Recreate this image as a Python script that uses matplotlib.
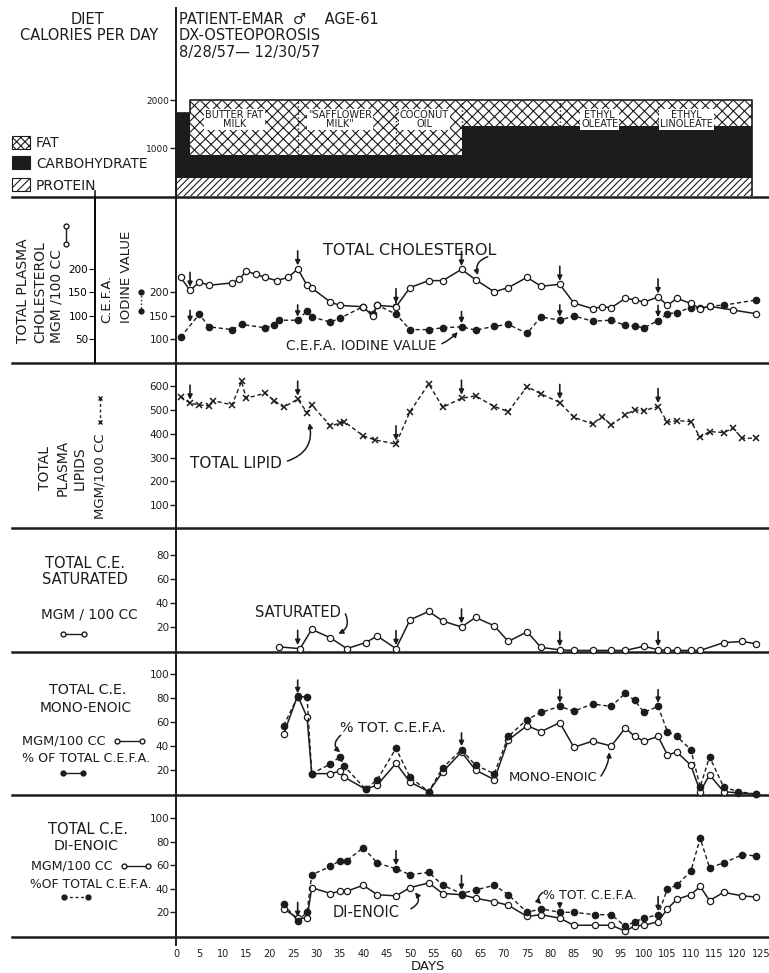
import numpy as np
import matplotlib.pyplot as plt
from matplotlib.patches import Rectangle

W, H = 769, 973
INK = '#1c1c1c'
plt.rcParams['font.family'] = 'DejaVu Sans'
plt.rcParams['hatch.linewidth'] = 0.8

# ---------------- data ----------------
# diet, calories per day by period
seg_start = np.array([0, 3, 26, 47, 61, 82, 103])
seg_end = np.array([3, 26, 47, 61, 82, 103, 123])
protein = np.array([380, 380, 380, 380, 380, 380, 380])
carb = np.array([1350, 470, 470, 470, 1080, 1080, 1080])
fat = np.array([0, 1150, 1150, 1150, 540, 540, 540])
diet_names = ['', 'BUTTER FAT\nMILK', '"SAFFLOWER\nMILK"', 'COCONUT\nOIL', '',
              'ETHYL\nOLEATE', 'ETHYL\nLINOLEATE']
change_days = [3, 26, 47, 61, 82, 103]

# total plasma cholesterol (mgm/100cc) and C.E.F.A. iodine value
chol_days = [1, 3, 5, 7, 12, 13.5, 15, 17, 19, 21.5, 24, 26, 28, 29, 33, 35, 40, 42, 43,
             47, 50, 54, 57, 61, 64, 68, 71, 75, 78, 82, 85, 89, 91, 93, 96, 98, 100,
             103, 105, 107, 110, 112, 114, 119, 124]
chol_vals = [182, 154, 172, 165, 170, 178, 195, 189, 182, 175, 182, 200, 165, 159, 129,
             122, 119, 99, 122, 119, 160, 175, 175, 199, 177, 151, 160, 182, 163, 167,
             127, 115, 119, 117, 137, 134, 129, 140, 122, 137, 126, 115, 120, 112, 104]
iod_days = [1, 5, 7, 12, 14, 19, 21, 22, 26, 28, 29, 33, 35, 40, 42, 43, 47, 50, 54, 57,
            61, 64, 68, 71, 75, 78, 82, 85, 89, 93, 96, 98, 100, 103, 105, 107, 110,
            112, 114, 117, 124]
iod_vals = [104, 153, 126, 120, 131, 124, 129, 140, 140, 160, 147, 136, 144, 169, 153,
            172, 153, 120, 120, 124, 126, 119, 127, 131, 112, 147, 140, 149, 138, 140,
            129, 127, 124, 139, 154, 156, 167, 165, 170, 172, 183]

# total plasma lipids (mgm/100cc)
lip_days = [1, 3, 5, 7, 8, 12, 14, 15, 19, 21, 23, 26, 28, 29, 33, 35, 36, 40, 42.5, 47,
            50, 54, 57, 61, 64, 68, 71, 75, 78, 82, 85, 89, 91, 93, 96, 98, 100, 103,
            105, 107, 110, 112, 114, 117, 119, 121, 124]
lip_vals = [556, 528, 521, 517, 539, 521, 620, 549, 570, 539, 511, 545, 489, 521, 433,
            444, 450, 391, 374, 357, 493, 609, 511, 549, 559, 514, 493, 598, 567, 531,
            469, 441, 472, 437, 479, 500, 497, 514, 448, 455, 451, 385, 409, 405, 423,
            381, 381]

# total C.E. saturated (mgm/100cc)
sat_days = [22, 26.5, 29, 33, 36.5, 40.5, 43, 47, 50, 54, 57, 61, 64, 68, 71, 75, 78, 82,
            85, 89, 93, 96, 100, 103, 105, 107, 110, 112, 117, 121, 124]
sat_vals = [3.5, 2, 18, 11, 2, 7, 12.5, 2, 26, 33, 25, 20, 28, 21, 8, 16, 3, 1, 0.5, 0.5,
            0.5, 0.5, 4, 1, 0.5, 0.5, 0.5, 0.5, 7, 8, 6]

# total C.E. mono-enoic: mgm/100cc and % of total C.E.F.A.
mono_days = [23, 26, 28, 29, 33, 35, 36, 40.5, 43, 47, 50, 54, 57, 61, 64, 68, 71, 75,
             78, 82, 85, 89, 93, 96, 98, 100, 103, 105, 107, 110, 112, 114, 117, 120, 124]
mono_mgm = [50, 82, 64, 17, 17, 19, 14, 4, 7.5, 25.6, 10, 2, 18.6, 35, 20, 12, 45, 57, 52,
            59.5, 39, 44, 40, 55, 48, 44, 48, 32.5, 35, 24, 2, 16, 2, 1, 0]
mono_pct = [57, 81, 81, 17, 25, 31, 23, 4, 12, 38, 14, 2, 22, 37, 24, 17, 48, 62, 68, 73,
            69, 75, 73, 84, 78, 68, 73, 52, 48, 37, 6, 31, 6, 2, 0]

# total C.E. di-enoic: mgm/100cc and % of total C.E.F.A.
di_days = [23, 26, 28, 29, 33, 35, 36.5, 40, 43, 47, 50, 54, 57, 61, 64, 68, 71, 75, 78,
           82, 85, 89.5, 93, 96, 98, 100, 103, 105, 107, 110, 112, 114, 117, 121, 124]
di_mgm = [23, 15, 15, 41, 36, 38, 38, 43, 35, 34, 41, 45, 36, 35, 32, 29, 26, 16.5, 18,
          15, 9, 9, 9, 4, 8.5, 9, 12, 23, 31, 35, 42, 30, 37, 34, 33]
di_pct = [27, 13, 20, 52, 59, 64, 64, 75, 62, 57, 52, 54, 43, 36, 39, 43, 35, 20, 23, 20,
          20, 18, 18, 8, 12, 15, 18, 40, 43, 55, 83, 58, 62, 69, 68]

day_ticks = list(range(0, 126, 5))
# -----------------------------------------------------------

fig = plt.figure(figsize=(W / 100, H / 100), dpi=100)

# pixel overlay for the left column texts, rules and key symbols
ov = fig.add_axes([0, 0, 1, 1])
ov.set_xlim(0, W)
ov.set_ylim(H, 0)
ov.axis('off')


def panel(top, bottom, ylim, yticks):
    ax = fig.add_axes([176 / W, 1 - bottom / H, (W - 176) / W, (bottom - top) / H])
    ax.set_xlim(0, 126.7)
    ax.set_ylim(*ylim)
    ax.patch.set_alpha(0)
    for s in ['top', 'right', 'bottom']:
        ax.spines[s].set_visible(False)
    ax.spines['left'].set_linewidth(1.4)
    ax.spines['left'].set_color(INK)
    ax.tick_params(axis='x', bottom=False, labelbottom=False)
    ax.tick_params(axis='y', direction='out', length=4, width=1, labelsize=7.5, pad=1,
                   colors=INK)
    ax.set_yticks(yticks)
    return ax


def open_line(ax, x, y):
    ax.plot(x, y, '-o', color=INK, lw=1.1, ms=4.5, mfc='white', mec=INK, mew=0.9,
            clip_on=False, zorder=3)


def dot_line(ax, x, y):
    ax.plot(x, y, 'o', color=INK, ls=(0, (3, 2)), lw=1.0, ms=4.5, clip_on=False,
            zorder=4)


def drop_arrows(ax, days, xs, ys, length=14, gap=2.5):
    for d in days:
        yv = np.interp(d, xs, ys)
        ax.annotate('', xy=(d, yv), xytext=(0, length), textcoords='offset points',
                    arrowprops=dict(arrowstyle='-|>', color=INK, lw=1.2, shrinkA=0,
                                    shrinkB=gap, mutation_scale=7))


def curl(ax, start, end, rad):
    ax.annotate('', xy=end, xytext=start,
                arrowprops=dict(arrowstyle='-|>', color=INK, lw=1.1, shrinkA=0,
                                shrinkB=1, mutation_scale=7,
                                connectionstyle='arc3,rad=%s' % rad))


# ---------------- diet panel ----------------
ax0 = panel(8, 196, (0, 3917), [1000, 2000])
ax0.set_yticklabels(['1000', '2000'], fontsize=6.5)
widths = seg_end - seg_start
ax0.bar(seg_start, protein, width=widths, align='edge', color='white', edgecolor=INK,
        hatch='/////', lw=0)
ax0.bar(seg_start, carb, bottom=protein, width=widths, align='edge', color=INK, lw=0)
ax0.bar(seg_start, fat, bottom=protein + carb, width=widths, align='edge', color='white',
        edgecolor=INK, hatch='xxx', lw=0)
tops = protein + carb + fat
ox = [seg_start[0]]
oy = [0]
for s, e, t in zip(seg_start, seg_end, tops):
    ox += [s, e]
    oy += [t, t]
ox.append(seg_end[-1])
oy.append(0)
ax0.plot(ox, oy, color=INK, lw=1.2)
for s, lo in zip(seg_start[2:], (protein + carb)[2:]):
    ax0.vlines(s, lo, 2000, colors=INK, linestyles=':', lw=1)
label_days = [0, 12.5, 35, 53, 0, 90.5, 109]
for name, xd in zip(diet_names, label_days):
    if name:
        ax0.text(xd, 1600, name, ha='center', va='center', fontsize=7, color=INK,
                 linespacing=0.9,
                 bbox=dict(boxstyle='square,pad=0.1', fc='white', ec='none'))

ov.text(87, 19, 'DIET', ha='center', va='center', fontsize=10.5, color=INK)
ov.text(89, 36, 'CALORIES PER DAY', ha='center', va='center', fontsize=10.5, color=INK)
ov.text(179, 19, 'PATIENT-EMAR  \u2642    AGE-61', ha='left', va='center', fontsize=10.5,
        color=INK)
ov.text(179, 36, 'DX-OSTEOPOROSIS', ha='left', va='center', fontsize=10.5, color=INK)
ov.text(179, 53, '8/28/57\u2014 12/30/57', ha='left', va='center', fontsize=10.5,
        color=INK)
ov.add_patch(Rectangle((12, 136), 18, 13, fc='white', ec=INK, hatch='xxxx', lw=0.8))
ov.add_patch(Rectangle((12, 156), 18, 13, fc=INK, ec=INK, lw=0.8))
ov.add_patch(Rectangle((12, 178), 18, 13, fc='white', ec=INK, hatch='////', lw=0.8))
ov.text(36, 143, 'FAT', va='center', fontsize=10, color=INK)
ov.text(36, 164, 'CARBOHYDRATE', va='center', fontsize=9.8, color=INK)
ov.text(36, 186, 'PROTEIN', va='center', fontsize=10, color=INK)

# ---------------- cholesterol / iodine panel ----------------
ax1 = panel(197, 363, (49, 402), [100, 150, 200])
ax1b = ax1.twinx()
ax1b.set_ylim(-1.4, 354)
ax1b.axis('off')
axc = fig.add_axes([95 / W, 1 - 363 / H, (176 - 95) / W, (363 - 197) / H])
axc.set_ylim(-1.4, 354)
axc.patch.set_alpha(0)
for s in ['top', 'right', 'bottom']:
    axc.spines[s].set_visible(False)
axc.spines['left'].set_linewidth(1.2)
axc.set_xticks([])
axc.set_yticks([50, 100, 150, 200])
axc.tick_params(axis='y', direction='out', length=4, labelsize=7.5, pad=1)

dot_line(ax1, iod_days, iod_vals)
open_line(ax1b, chol_days, chol_vals)
drop_arrows(ax1b, change_days, chol_days, chol_vals, length=13)
drop_arrows(ax1, change_days, iod_days, iod_vals, length=11)
ax1b.text(31.5, 240, 'TOTAL CHOLESTEROL', va='center', fontsize=11.5, color=INK)
curl(ax1b, (66.6, 226), (64.6, 184), 0.5)
ax1.text(23.5, 86, 'C.E.F.A. IODINE VALUE', va='center', fontsize=9.8, color=INK)
curl(ax1, (56.8, 90), (60.4, 117), 0.1)

for xx, t in [(23, 'TOTAL PLASMA'), (40, 'CHOLESTEROL'), (57, 'MGM /100 CC')]:
    ov.text(xx, 343, t, rotation=90, ha='center', va='bottom', fontsize=10, color=INK)
ov.plot([66, 66], [226, 244], '-o', color=INK, lw=1, ms=3.5, mfc='white')
for xx, t in [(107, 'C.E.F.A.'), (126, 'IODINE VALUE')]:
    ov.text(xx, 323, t, rotation=90, ha='center', va='bottom', fontsize=9.5, color=INK)
ov.plot([141, 141], [292, 311], ':o', color=INK, lw=1, ms=3.5)

# ---------------- lipid panel ----------------
ax2 = panel(363, 528, (4, 697), [100, 200, 300, 400, 500, 600])
ax2.plot(lip_days, lip_vals, 'x', color=INK, ls=(0, (3, 2)), lw=1.0, ms=4.5, mew=1.1,
         clip_on=False)
drop_arrows(ax2, change_days, lip_days, lip_vals, length=13)
ax2.text(3, 277, 'TOTAL LIPID', va='center', fontsize=11, color=INK)
curl(ax2, (23.8, 285), (28.4, 450), 0.45)
for xx, t in [(45, 'TOTAL'), (63, 'PLASMA'), (80, 'LIPIDS')]:
    ov.text(xx, 468, t, rotation=90, ha='center', va='center', fontsize=10, color=INK)
ov.text(100, 476, 'MGM/100 CC', rotation=90, ha='center', va='center', fontsize=9.5,
        color=INK)
ov.plot([100, 100], [398, 422], 'x', color=INK, ls=(0, (2, 2)), lw=1, ms=3.5)

# ---------------- saturated panel ----------------
ax3 = panel(528, 652, (-0.8, 102.5), [20, 40, 60, 80])
open_line(ax3, sat_days, sat_vals)
drop_arrows(ax3, change_days[1:], sat_days, sat_vals, length=13)
ax3.text(16.8, 32.5, 'SATURATED', va='center', fontsize=10.5, color=INK)
curl(ax3, (36.2, 31), (34.4, 14), -0.5)
ov.text(85, 563, 'TOTAL C.E.', ha='center', va='center', fontsize=10.5, color=INK)
ov.text(85, 580, 'SATURATED', ha='center', va='center', fontsize=10.5, color=INK)
ov.text(89, 615, 'MGM / 100 CC', ha='center', va='center', fontsize=9.8, color=INK)
ov.plot([63, 84], [634, 634], '-o', color=INK, lw=1, ms=3.5, mfc='white')

# ---------------- mono-enoic panel ----------------
ax4 = panel(652, 795, (-0.8, 118.3), [20, 40, 60, 80, 100])
dot_line(ax4, mono_days, mono_pct)
open_line(ax4, mono_days, mono_mgm)
drop_arrows(ax4, [26, 61, 82, 103], mono_days, mono_pct, length=12)
ax4.text(35, 55, '% TOT. C.E.F.A.', va='center', fontsize=10.3, color=INK)
curl(ax4, (35.2, 49), (35.3, 34), 0.6)
ax4.text(71, 14, 'MONO-ENOIC', va='center', fontsize=9.5, color=INK)
curl(ax4, (90.8, 15), (92.6, 36), 0.15)
ov.text(88, 690, 'TOTAL C.E.', ha='center', va='center', fontsize=10.3, color=INK)
ov.text(86, 708, 'MONO-ENOIC', ha='center', va='center', fontsize=9.9, color=INK)
ov.text(22, 741, 'MGM/100 CC', va='center', fontsize=9.3, color=INK)
ov.plot([117, 142], [741, 741], '-o', color=INK, lw=1, ms=3.5, mfc='white')
ov.text(22, 758, '% OF TOTAL C.E.F.A.', va='center', fontsize=9.1, color=INK)
ov.plot([63, 83], [773, 773], '-o', color=INK, lw=1, ms=3.5)

# ---------------- di-enoic panel ----------------
ax5 = panel(795, 937, (-1, 119.8), [20, 40, 60, 80, 100])
dot_line(ax5, di_days, di_pct)
open_line(ax5, di_days, di_mgm)
drop_arrows(ax5, [26, 47, 61, 103], di_days, di_pct, length=13)
drop_arrows(ax5, [82], di_days, di_pct, length=7)
ax5.text(78.5, 34, '% TOT. C.E.F.A.', va='center', fontsize=9, color=INK)
curl(ax5, (78.4, 37), (78.2, 26), 0.6)
ax5.text(33.5, 20, 'DI-ENOIC', va='center', fontsize=10.5, color=INK)
curl(ax5, (50.2, 23), (50.9, 38), 0.6)
ax5.set_xticks(day_ticks)
ax5.tick_params(axis='x', bottom=False, labelbottom=True, labelsize=7, pad=5,
                colors=INK)
ov.text(88, 829, 'TOTAL C.E.', ha='center', va='center', fontsize=10.5, color=INK)
ov.text(86, 846, 'DI-ENOIC', ha='center', va='center', fontsize=10.3, color=INK)
ov.text(31, 866, 'MGM/100 CC', va='center', fontsize=9.1, color=INK)
ov.plot([124, 148], [866, 866], '-o', color=INK, lw=1, ms=3.5, mfc='white')
ov.text(30, 884, '%OF TOTAL C.E.F.A.', va='center', fontsize=8.9, color=INK)
ov.plot([64, 88], [897, 897], 'o', color=INK, ls=(0, (2, 2)), lw=1, ms=3.5)
ov.text(428, 966, 'DAYS', ha='center', va='center', fontsize=9.5, color=INK)

# rules between the panels and the long day axis line
for y in [197, 363, 528, 652, 795, 937]:
    ov.plot([12, W], [y, y], color=INK, lw=1.8)
ov.plot([95, 95], [191, 363], color=INK, lw=1.2)
ov.plot([176, 176], [937, 945], color=INK, lw=1.4)

fig.savefig('out.png', dpi=100)
